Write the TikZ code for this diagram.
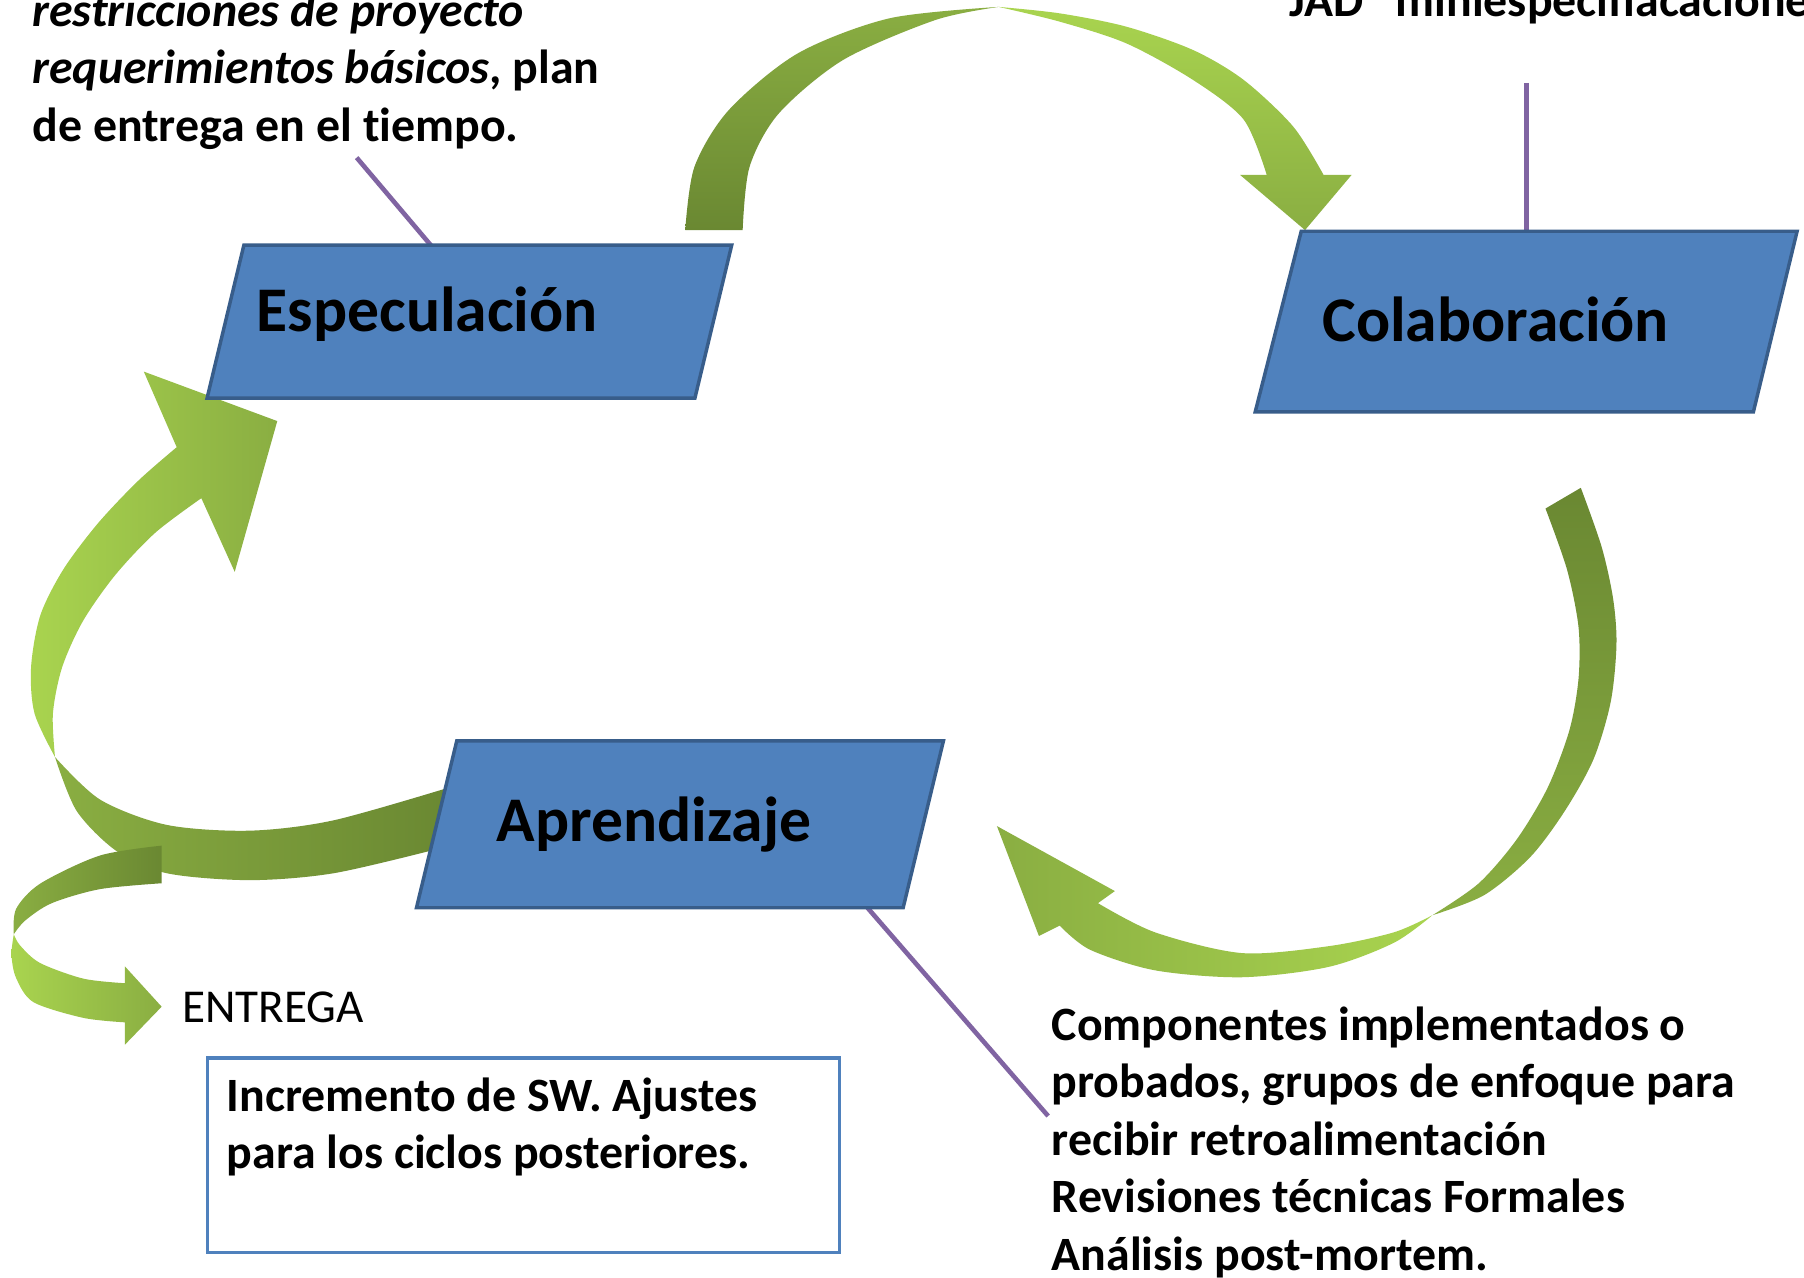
\documentclass[tikz,border=0pt]{standalone}
\usepackage{fontspec}
\setmainfont{Carlito}[Ligatures=NoCommon]
\definecolor{boxfill}{HTML}{4F81BD}
\definecolor{boxline}{HTML}{385D8A}
\definecolor{purp}{HTML}{8064A2}
\definecolor{glight}{HTML}{A9D44F}
\definecolor{gmid}{HTML}{8AAE42}
\definecolor{gdark}{HTML}{6A8832}
\tikzset{
  pbox/.style={fill=boxfill, draw=boxline, line width=3pt, line join=miter},
  conn/.style={draw=purp, line width=4pt},
  title/.style={font=\fontsize{55.3}{66}\selectfont\bfseries, anchor=base, inner sep=0pt},
  body/.style={font=\fontsize{41.6}{50}\selectfont\bfseries, anchor=base west, inner sep=0pt, align=left},
  plain/.style={font=\fontsize{41}{50}\selectfont, anchor=base west, inner sep=0pt},
}
\begin{document}
\begin{tikzpicture}[x=1pt,y=-1pt]
\clip (0,0) rectangle (1568,1110);
\fill[white] (0,0) rectangle (1568,1110);
% ---- top arrow (Especulacion -> Colaboracion)
\shade[top color=gmid, bottom color=gdark]
  plot[smooth] coordinates {(595.6,200) (603.6,145) (633.5,95.6) (693.4,46.4) (773.2,15.9) (868,6)}
  -- plot[smooth] coordinates {(868,6) (813,17.4) (733,52) (677,98.5) (651.5,145) (645.5,200)} -- cycle;
\shade[top color=glight, bottom color=gmid]
  plot[smooth] coordinates {(868,6) (921,11.6) (979,23.2) (1037,43.5) (1081,69.5) (1124,110) (1150.4,152)}
  -- (1174.8,152) -- (1134.3,200) -- (1077.8,152)
  -- plot[smooth] coordinates {(1101,152) (1081,104) (1037,69.5) (979,37.7) (921,18.8) (868,6)} -- cycle;
% ---- right arrow (Colaboracion -> Aprendizaje)
\shade[top color=gdark, bottom color=gmid]
  plot[smooth] coordinates {(1374,424) (1392,475) (1402,520) (1405,560) (1400,610) (1385,660) (1360,705) (1330,745) (1290,778) (1245,795.5)}
  -- plot[smooth] coordinates {(1245,795.5) (1285,768) (1318,730) (1345,685) (1364,635) (1372,590) (1372,545) (1362,495) (1343.3,442)} -- cycle;
\shade[left color=gmid, right color=glight]
  plot[smooth] coordinates {(1245,795.5) (1211.4,819.5) (1154.8,840.4) (1079.4,849.4) (1004,843.4) (947.5,825.5) (921,804.5)}
  -- (903,813.5) -- (866.5,718) -- (969,774.5)
  -- plot[smooth] coordinates {(954.3,785) (1004,810.4) (1079.4,828.4) (1154.8,822.4) (1211.4,810.4) (1245,795.5)} -- cycle;
% ---- left arrow (Aprendizaje -> Especulacion)
\shade[left color=gmid, right color=gdark]
  plot[smooth] coordinates {(47.8,658) (66.6,704.8) (101.4,739.8) (145,759) (217,765) (290,759) (380,738)}
  -- (392,684)
  -- plot[smooth] coordinates {(392,684) (290,713) (217,722) (145,717) (87,695) (47.8,658)} -- cycle;
\shade[left color=glight, right color=gmid]
  plot[smooth] coordinates {(47.8,658) (30,620) (27,580) (35,535) (55,495) (85,455) (120,418) (153.6,388.7)}
  -- (125,323) -- (241,366) -- (204,497)
  -- plot[smooth] coordinates {(175,433) (135,463) (100,500) (72,540) (54,580) (46,620) (47.8,658)} -- cycle;
% ---- ENTREGA arrow
\shade[left color=gmid, right color=gdark]
  plot[smooth] coordinates {(12,812) (14,790) (35,768) (86.9,743.6) (140.5,735)}
  -- (140.5,767.7)
  -- plot[smooth] coordinates {(140.5,767.7) (86.9,772.8) (45,785) (22,800) (12,812)} -- cycle;
\shade[left color=glight, right color=gmid]
  plot[smooth] coordinates {(12,812) (10,830) (14,850) (29,871) (72.4,884.7) (108.6,888.6)}
  -- (108.6,908) -- (140.5,875) -- (108.6,840)
  -- plot[smooth] coordinates {(108.6,854.6) (72.4,850.6) (34.8,837) (17.4,821.7) (12,812)} -- cycle;
% ---- connector end points
\coordinate (c1a) at (310,137);
\coordinate (c1b) at (376,215);
\coordinate (c2a) at (1327,72);
\coordinate (c2b) at (1327,201);
\coordinate (c3a) at (754,789);
\coordinate (c3b) at (911,970);
\draw[conn] (c1a) -- (c1b);
\draw[conn] (c2a) -- (c2b);
\draw[conn] (c3a) -- (c3b);
% ---- parallelograms
\draw[pbox] (212,213) -- (636,213) -- (604,346) -- (180,346) -- cycle;
\draw[pbox] (1131,201) -- (1562,201) -- (1524,358) -- (1091,358) -- cycle;
\draw[pbox] (397,644) -- (820,644) -- (785,789) -- (362,789) -- cycle;
\node[title] (esp) at (371.5,288) {Especulación};
\node[title] (col) at (1300,297) {Colaboración};
\node[title] (apr) at (568.5,731) {Aprendizaje};
% ---- output box
\node[draw=boxfill, line width=3pt, minimum width=549pt, minimum height=169pt, anchor=north west, inner sep=0pt] (inc) at (179,918) {};
% ---- texts (anchor base = last line)
\node[body] (tl) at (28,123) {\textit{restricciones de proyecto}\\\textit{requerimientos básicos}, plan\\de entrega en el tiempo.};
\node[body] (tr) at (1121,14) {JAD” miniespecifiacaciones};
\node[body] (br) at (914,1104) {Componentes implementados o\\probados, grupos de enfoque para\\recibir retroalimentación\\Revisiones técnicas Formales\\Análisis post-mortem.};
\node[body] (inct) at (197,1016) {Incremento de SW. Ajustes\\para los ciclos posteriores.};
\node[plain] (ent) at (158,889) {ENTREGA};
\end{tikzpicture}
\end{document}
